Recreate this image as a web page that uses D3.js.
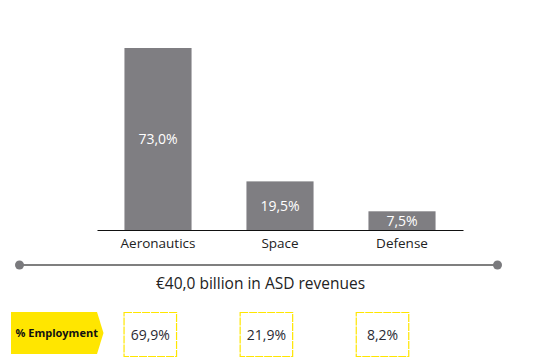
<!DOCTYPE html>
<html>
<head>
<meta charset="utf-8">
<script src="https://cdn.jsdelivr.net/npm/d3@7"></script>
<style>
  body { margin: 0; background: #fff; }
  text { font-family: "Open Sans", sans-serif; }
</style>
</head>
<body>
<svg id="chart"></svg>
<script>
const width = 558;
const height = 362;

// data
const categories = ["Aeronautics", "Space", "Defense"];
const revenueShare = [73.0, 19.5, 7.5];
const employmentShare = [69.9, 21.9, 8.2];
const totalLabel = "€40,0 billion in ASD revenues";
const tagLabel = "% Employment";

const fmt = v => v.toFixed(1).replace(".", ",") + "%";

const svg = d3.select("#chart")
  .attr("width", width)
  .attr("height", height)
  .attr("viewBox", [0, 0, width, height]);

const x = d3.scaleBand()
  .domain(categories)
  .range([97, 463])
  .paddingInner(0.45)
  .paddingOuter(0.225);

const y = d3.scaleLinear()
  .domain([0, 73])
  .range([230, 48]);

const barColor = "#7f7e82";

// bars
svg.append("g")
  .selectAll("rect")
  .data(categories)
  .join("rect")
    .attr("x", d => x(d))
    .attr("y", (d, i) => y(revenueShare[i]))
    .attr("width", x.bandwidth())
    .attr("height", (d, i) => y(0) - y(revenueShare[i]))
    .attr("fill", barColor);

// value labels inside bars
svg.append("g")
  .selectAll("text")
  .data(categories)
  .join("text")
    .attr("x", d => x(d) + x.bandwidth() / 2)
    .attr("y", (d, i) => (y(revenueShare[i]) + y(0)) / 2)
    .attr("dy", "0.35em")
    .attr("text-anchor", "middle")
    .attr("fill", "#fff")
    .attr("font-size", 14)
    .text((d, i) => fmt(revenueShare[i]));

// baseline + category labels
const xAxis = svg.append("g")
  .attr("transform", `translate(0,${y(0)})`)
  .call(d3.axisBottom(x).tickSize(0).tickPadding(8));
xAxis.select(".domain").attr("stroke", "#111").attr("stroke-width", 1.2);
xAxis.selectAll("text")
  .attr("font-family", "Open Sans, sans-serif")
  .attr("font-size", 13.5)
  .attr("fill", "#222");

// total line with end dots
const lineY = 265;
const lineX = [19.5, 497.5];
svg.append("line")
  .attr("x1", lineX[0]).attr("x2", lineX[1])
  .attr("y1", lineY).attr("y2", lineY)
  .attr("stroke", "#7f7f7f")
  .attr("stroke-width", 2);
svg.append("g")
  .selectAll("circle")
  .data(lineX)
  .join("circle")
    .attr("cx", d => d)
    .attr("cy", lineY)
    .attr("r", 4.5)
    .attr("fill", "#7a7a7d");

svg.append("text")
  .attr("x", 260.5)
  .attr("y", 284)
  .attr("dy", "0.35em")
  .attr("text-anchor", "middle")
  .attr("font-size", 15.5)
  .attr("fill", "#222")
  .text(totalLabel);

// employment tag
const tagTop = 312, tagBottom = 354;
svg.append("path")
  .attr("d", `M11,${tagTop}H97L103.5,${(tagTop + tagBottom) / 2}L97,${tagBottom}H11Z`)
  .attr("fill", "#ffe600");
svg.append("text")
  .attr("x", 15.5)
  .attr("y", (tagTop + tagBottom) / 2)
  .attr("dy", "0.35em")
  .attr("font-size", 11)
  .attr("font-weight", "bold")
  .attr("fill", "#111")
  .text(tagLabel);

// employment boxes
const xe = d3.scalePoint()
  .domain(categories)
  .range([150.3, 382.5]);
const boxW = 52.5, boxTop = 312.5, boxH = 44;

const boxes = svg.append("g")
  .selectAll("g")
  .data(categories)
  .join("g")
    .attr("transform", d => `translate(${xe(d)},0)`);
boxes.append("rect")
  .attr("x", -boxW / 2)
  .attr("y", boxTop)
  .attr("width", boxW)
  .attr("height", boxH)
  .attr("fill", "none")
  .attr("stroke", "#ffe600")
  .attr("stroke-width", 1.2)
  .attr("stroke-dasharray", "8,1");
boxes.append("text")
  .attr("y", boxTop + boxH / 2 + 1)
  .attr("dy", "0.35em")
  .attr("text-anchor", "middle")
  .attr("font-size", 14)
  .attr("fill", "#2a2a33")
  .text((d, i) => fmt(employmentShare[i]));
</script>
</body>
</html>
